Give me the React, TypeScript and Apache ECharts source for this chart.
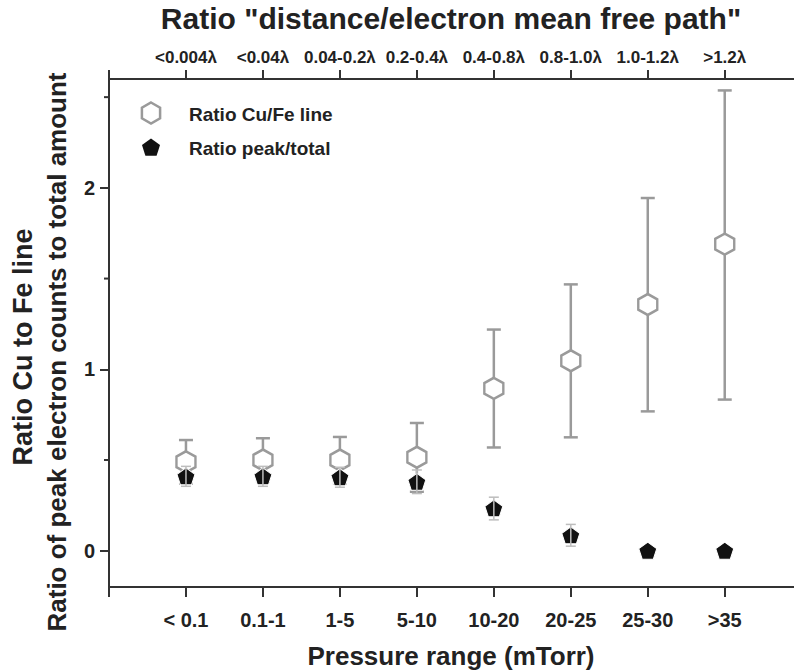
import { useEffect, useRef } from 'react';
import * as echarts from 'echarts';

const pressureLabels = ['< 0.1', '0.1-1', '1-5', '5-10', '10-20', '20-25', '25-30', '>35'];
const ratioLabels = ['<0.004λ', '<0.04λ', '0.04-0.2λ', '0.2-0.4λ', '0.4-0.8λ', '0.8-1.0λ', '1.0-1.2λ', '>1.2λ'];
const positions = [1, 2, 3, 4, 5, 6, 7, 8];

const cuFe = [0.49, 0.5, 0.5, 0.515, 0.895, 1.047, 1.357, 1.69];
const cuFeLow = [0.37, 0.38, 0.37, 0.325, 0.569, 0.625, 0.768, 0.833];
const cuFeHigh = [0.61, 0.62, 0.627, 0.704, 1.219, 1.468, 1.944, 2.537];

const peakTotal = [0.41, 0.41, 0.405, 0.38, 0.234, 0.085, 0.0, 0.0];
const peakLow = [0.355, 0.355, 0.35, 0.315, 0.17, 0.025, 0.0, 0.0];
const peakHigh = [0.465, 0.465, 0.46, 0.445, 0.295, 0.145, 0.0, 0.0];

const yMajorTicks = [0, 1, 2];
const yMinorTicks = [0.5, 1.5, 2.5];
const xTicks = [0, 1, 2, 3, 4, 5, 6, 7, 8];

const FONT = '"Liberation Sans", Arial, Helvetica, sans-serif';
const TEXT = '#222';
const AXIS = '#333';
const GRAY = '#9a9a9a';

const HEX = 'path://M0,-10L8.66,-5L8.66,5L0,10L-8.66,5L-8.66,-5Z';
const PENT = 'path://M0,-10L9.51,-3.09L5.88,8.09L-5.88,8.09L-9.51,-3.09Z';

function polyPoints(cx: number, cy: number, r: number, n: number, startDeg: number) {
  const pts: number[][] = [];
  for (let i = 0; i < n; i++) {
    const a = ((startDeg + (360 / n) * i) * Math.PI) / 180;
    pts.push([cx + r * Math.cos(a), cy + r * Math.sin(a)]);
  }
  return pts;
}

function errorBar(color: string, lw: number, cap: number) {
  return (params: any, api: any) => {
    const x = api.value(0);
    const lo = api.value(1);
    const hi = api.value(2);
    if (hi - lo < 1e-6) return null;
    const t = api.coord([x, hi]);
    const b = api.coord([x, lo]);
    const h = cap / 2;
    const style = { stroke: color, lineWidth: lw };
    return {
      type: 'group',
      children: [
        { type: 'line', shape: { x1: t[0], y1: t[1], x2: b[0], y2: b[1] }, style },
        { type: 'line', shape: { x1: t[0] - h, y1: t[1], x2: t[0] + h, y2: t[1] }, style },
        { type: 'line', shape: { x1: b[0] - h, y1: b[1], x2: b[0] + h, y2: b[1] }, style },
      ],
    };
  };
}

export default function App() {
  const ref = useRef<HTMLDivElement>(null);

  useEffect(() => {
    if (!ref.current) return;
    const chart = echarts.init(ref.current, null, { renderer: 'svg' });

    const axisCommon = {
      type: 'value',
      min: 0,
      max: 8.9,
      splitLine: { show: false },
      axisLine: { show: true, onZero: false, lineStyle: { color: AXIS, width: 2 } },
    };

    chart.setOption({
      animation: false,
      backgroundColor: '#ffffff',
      textStyle: { fontFamily: FONT },
      grid: { left: 109, right: 0, top: 79, bottom: 85, containLabel: false },
      xAxis: [
        {
          ...axisCommon,
          position: 'bottom',
          axisTick: { show: true, length: 10, customValues: xTicks, lineStyle: { color: AXIS, width: 2 } },
          axisLabel: {
            customValues: positions,
            formatter: (v: number) => pressureLabels[Math.round(v) - 1] ?? '',
            fontSize: 20,
            fontWeight: 'bold',
            color: TEXT,
            fontFamily: FONT,
            margin: 23,
          },
        },
        {
          ...axisCommon,
          position: 'top',
          axisTick: { show: true, length: 9, customValues: xTicks, lineStyle: { color: AXIS, width: 2 } },
          axisLabel: {
            customValues: positions,
            formatter: (v: number) => ratioLabels[Math.round(v) - 1] ?? '',
            fontSize: 17,
            fontWeight: 'bold',
            color: TEXT,
            fontFamily: FONT,
            margin: 13,
          },
        },
      ],
      yAxis: [
        {
          type: 'value',
          min: -0.2,
          max: 2.6,
          position: 'left',
          splitLine: { show: false },
          axisLine: { show: true, onZero: false, lineStyle: { color: AXIS, width: 2 } },
          axisTick: { show: true, length: 9, customValues: yMajorTicks, lineStyle: { color: AXIS, width: 2 } },
          axisLabel: {
            customValues: yMajorTicks,
            fontSize: 20,
            fontWeight: 'bold',
            color: TEXT,
            fontFamily: FONT,
            margin: 14,
          },
        },
      ],
      series: [
        {
          name: 'cuFeErr',
          type: 'custom',
          xAxisIndex: 0,
          yAxisIndex: 0,
          z: 1,
          silent: true,
          renderItem: errorBar(GRAY, 2.5, 14),
          encode: { x: 0, y: [1, 2] },
          data: positions.map((p, i) => [p, cuFeLow[i], cuFeHigh[i]]),
        },
        {
          name: 'Ratio Cu/Fe line',
          type: 'scatter',
          z: 2,
          symbol: HEX,
          symbolSize: [19, 21],
          itemStyle: { color: '#ffffff', borderColor: GRAY, borderWidth: 2.5, opacity: 1 },
          data: positions.map((p, i) => [p, cuFe[i]]),
        },
        {
          name: 'Ratio peak/total',
          type: 'scatter',
          z: 3,
          symbol: PENT,
          symbolSize: [18, 17],
          itemStyle: { color: '#111111', borderColor: '#ffffff', borderWidth: 1, opacity: 1 },
          data: positions.map((p, i) => [p, peakTotal[i]]),
        },
        {
          name: 'peakErr',
          type: 'custom',
          z: 4,
          silent: true,
          renderItem: errorBar('#bdbdbd', 1.5, 10),
          encode: { x: 0, y: [1, 2] },
          data: positions.map((p, i) => [p, peakLow[i], peakHigh[i]]),
        },
        {
          name: 'minorTicks',
          type: 'custom',
          z: 5,
          silent: true,
          clip: false,
          renderItem: (params: any, api: any) => {
            const c = api.coord([0, api.value(1)]);
            return {
              type: 'line',
              shape: { x1: c[0] - 5, y1: c[1], x2: c[0], y2: c[1] },
              style: { stroke: AXIS, lineWidth: 2 },
            };
          },
          encode: { x: 0, y: 1 },
          data: yMinorTicks.map((v) => [0, v]),
        },
      ],
      graphic: [
        {
          type: 'text',
          x: 451,
          y: 18,
          style: {
            text: 'Ratio "distance/electron mean free path"',
            font: `bold 30px ${FONT}`,
            fill: TEXT,
            textAlign: 'center',
            textVerticalAlign: 'middle',
          },
        },
        {
          type: 'text',
          x: 451,
          y: 656,
          style: {
            text: 'Pressure range (mTorr)',
            font: `bold 26px ${FONT}`,
            fill: TEXT,
            textAlign: 'center',
            textVerticalAlign: 'middle',
          },
        },
        {
          type: 'text',
          x: 23,
          y: 347,
          rotation: Math.PI / 2,
          style: {
            text: 'Ratio Cu to Fe line',
            font: `bold 27px ${FONT}`,
            fill: TEXT,
            textAlign: 'center',
            textVerticalAlign: 'middle',
          },
        },
        {
          type: 'text',
          x: 57,
          y: 352,
          rotation: Math.PI / 2,
          style: {
            text: 'Ratio of peak electron counts to total amount',
            font: `bold 26px ${FONT}`,
            fill: TEXT,
            textAlign: 'center',
            textVerticalAlign: 'middle',
          },
        },
        {
          type: 'polygon',
          shape: { points: polyPoints(151, 113, 10.5, 6, -90) },
          style: { fill: '#ffffff', stroke: GRAY, lineWidth: 2.5 },
        },
        {
          type: 'polygon',
          shape: { points: polyPoints(151, 148, 9.5, 5, -90) },
          style: { fill: '#111111' },
        },
        {
          type: 'text',
          x: 189,
          y: 114,
          style: {
            text: 'Ratio Cu/Fe line',
            font: `bold 19px ${FONT}`,
            fill: TEXT,
            textVerticalAlign: 'middle',
          },
        },
        {
          type: 'text',
          x: 189,
          y: 148,
          style: {
            text: 'Ratio peak/total',
            font: `bold 19px ${FONT}`,
            fill: TEXT,
            textVerticalAlign: 'middle',
          },
        },
      ],
    });

    return () => chart.dispose();
  }, []);

  return (
    <div
      ref={ref}
      style={{ position: 'fixed', left: 0, top: 0, width: 794, height: 672, background: '#fff' }}
    />
  );
}
